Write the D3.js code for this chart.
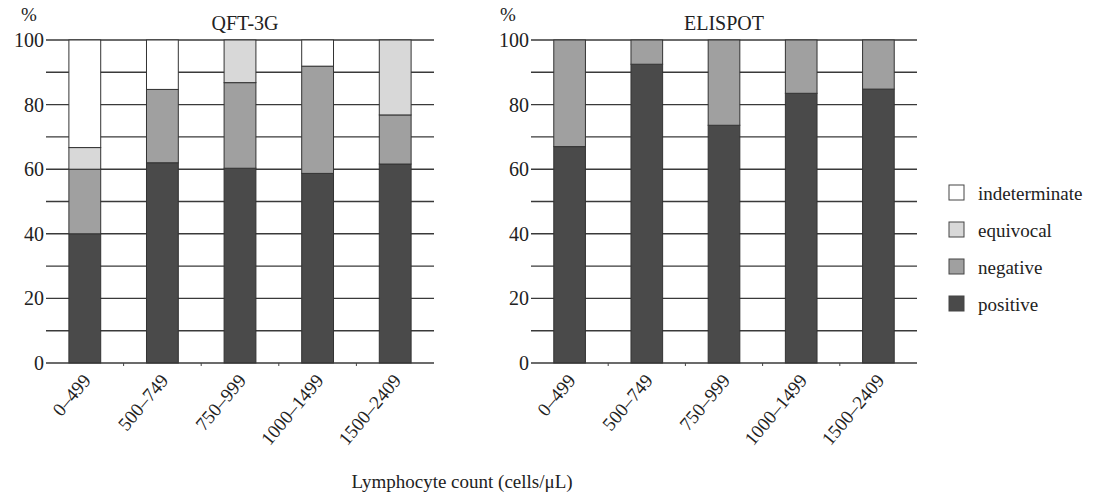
<!DOCTYPE html>
<html><head><meta charset="utf-8">
<script src="https://cdn.jsdelivr.net/npm/d3@7"></script>
<style>body{margin:0;background:#fff}svg{display:block}text{font-family:"Liberation Serif","DejaVu Serif",serif;fill:#222}</style>
</head><body><svg id="c" width="1099" height="497"></svg>
<script>
const categories = ["0–499","500–749","750–999","1000–1499","1500–2409"];
const seriesKeys = ["positive","negative","equivocal","indeterminate"];
const legendOrder = ["indeterminate","equivocal","negative","positive"];
// QFT-3G (%)
const qftPositive = [40, 62, 60.3, 58.7, 61.6];
const qftNegative = [20, 22.7, 26.5, 33.2, 15.2];
const qftEquivocal = [6.7, 0, 13.2, 0, 23.2];
const qftIndeterminate = [33.3, 15.3, 0, 8.1, 0];
// ELISPOT (%)
const eliPositive = [67, 92.5, 73.6, 83.5, 84.8];
const eliNegative = [33, 7.5, 26.4, 16.5, 15.2];
const eliEquivocal = [0, 0, 0, 0, 0];
const eliIndeterminate = [0, 0, 0, 0, 0];
const yTicks = [0,20,40,60,80,100];
const gridTicks = [10,20,30,40,50,60,70,80,90,100];
const colors = {positive:"#4a4a4a", negative:"#a0a0a0", equivocal:"#d8d8d8", indeterminate:"#ffffff"};

const svg = d3.select("#c");
function rows(p,n,e,i){return categories.map((c,k)=>({cat:c,positive:p[k],negative:n[k],equivocal:e[k],indeterminate:i[k]}));}
const panels = [
  {title:"QFT-3G", data:rows(qftPositive,qftNegative,qftEquivocal,qftIndeterminate), x0:46, x1:434, tx:245, px:29},
  {title:"ELISPOT", data:rows(eliPositive,eliNegative,eliEquivocal,eliIndeterminate), x0:531, x1:917, tx:724, px:508}
];
const y = d3.scaleLinear().domain([0,100]).range([363,40]);
panels.forEach(p=>{
  const g = svg.append("g");
  const x = d3.scaleBand().domain(categories).range([p.x0,p.x1]).paddingInner(0.59).paddingOuter(0.295);
  g.selectAll(".grid").data(gridTicks).join("line")
    .attr("x1",p.x0).attr("x2",p.x1).attr("y1",d=>y(d)).attr("y2",d=>y(d))
    .attr("stroke","#3a3a3a").attr("stroke-width",1.4);
  const stacked = d3.stack().keys(seriesKeys)(p.data);
  stacked.forEach(s=>{
    g.selectAll(null).data(s.filter(d=>d[1]-d[0]>0)).join("rect")
      .attr("x",d=>x(d.data.cat)).attr("width",x.bandwidth())
      .attr("y",d=>y(d[1])).attr("height",d=>y(d[0])-y(d[1]))
      .attr("fill",colors[s.key]).attr("stroke","#333").attr("stroke-width",1);
  });
  const xa = g.append("g").attr("transform","translate(0,363)");
  xa.append("line").attr("x1",p.x0).attr("x2",p.x1).attr("stroke","#3a3a3a").attr("stroke-width",1.5);
  const step = x.step();
  xa.selectAll(".tk").data(categories.slice(1)).join("line")
    .attr("x1",d=>x(d)-x.paddingInner()*step/2).attr("x2",d=>x(d)-x.paddingInner()*step/2)
    .attr("y1",0).attr("y2",3).attr("stroke","#444");
  xa.selectAll(".lbl").data(categories).join("text")
    .attr("transform",d=>`translate(${x(d)+x.bandwidth()/2+7},${18}) rotate(-50)`)
    .attr("text-anchor","end").attr("font-size",19).text(d=>d);
  g.selectAll(".yl").data(yTicks).join("text")
    .attr("x",p.x0-2).attr("y",d=>y(d)).attr("dy","0.35em")
    .attr("text-anchor","end").attr("font-size",20).text(d=>d);
  g.append("text").attr("x",p.px).attr("y",21).attr("text-anchor","middle").attr("font-size",19).text("%");
  g.append("text").attr("x",p.tx).attr("y",30).attr("text-anchor","middle").attr("font-size",20).text(p.title);
});
const lg = svg.append("g");
legendOrder.forEach((k,i)=>{
  const cy = 192 + i*37;
  lg.append("rect").attr("x",949).attr("y",cy-7).attr("width",15).attr("height",15)
    .attr("fill",colors[k]).attr("stroke","#444").attr("stroke-width",1);
  lg.append("text").attr("x",978).attr("y",cy+1).attr("dy","0.35em").attr("font-size",19).text(k);
});
svg.append("text").attr("x",462).attr("y",488).attr("text-anchor","middle").attr("font-size",19).text("Lymphocyte count (cells/μL)");
</script></body></html>
